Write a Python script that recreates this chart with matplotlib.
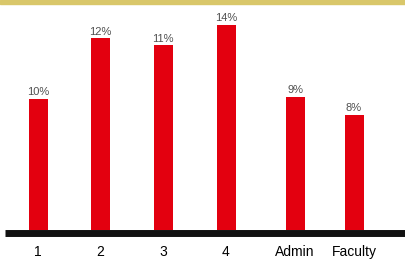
import matplotlib
matplotlib.use('Agg')
from matplotlib import pyplot as plt
from matplotlib.patches import Rectangle

groups = ['1', '2', '3', '4', 'Admin', 'Faculty']
labels = ['10%', '12%', '11%', '14%', '9%', '8%']
heights = [8.95, 13.05, 12.57, 14.0, 9.08, 7.86]

# bar centres (the groups are not evenly spaced in the original)
xpos = [38, 100, 163, 226, 295, 354]

plt.rcParams['font.family'] = ['Liberation Sans', 'DejaVu Sans']

fig = plt.figure(figsize=(4.05, 2.59), dpi=100)
ax = fig.add_axes([0, 0.112, 1, 0.871])

bars = ax.bar(xpos, heights, width=19, color='#e3000f', zorder=2)
for b, lab in zip(bars, labels):
    ax.annotate(lab, (b.get_x() + b.get_width() / 2, b.get_height()),
                xytext=(0, 1.2), textcoords='offset points',
                ha='center', va='bottom', fontsize=8, color='#505050')

ax.set_xlim(0, 405)
ax.set_ylim(0, 15.37)
ax.set_yticks([])
ax.set_xticks(xpos)
ax.set_xticklabels(groups, fontsize=6.3, color='#3c3c3c')
ax.tick_params(axis='x', length=0, pad=8.3)

for s in ['top', 'left', 'right']:
    ax.spines[s].set_visible(False)
ax.spines['bottom'].set_position(('outward', 2.2))
ax.spines['bottom'].set_linewidth(5)
ax.spines['bottom'].set_color('#111111')
ax.spines['bottom'].set_bounds(5, 405)
ax.spines['bottom'].set_capstyle('butt')

# yellow strip along the top edge
fig.patches.append(Rectangle((0, 1 - 4 / 259), 1, 4 / 259, transform=fig.transFigure,
                             color='#d9c76a', zorder=0))

fig.savefig('out.png', dpi=100)
